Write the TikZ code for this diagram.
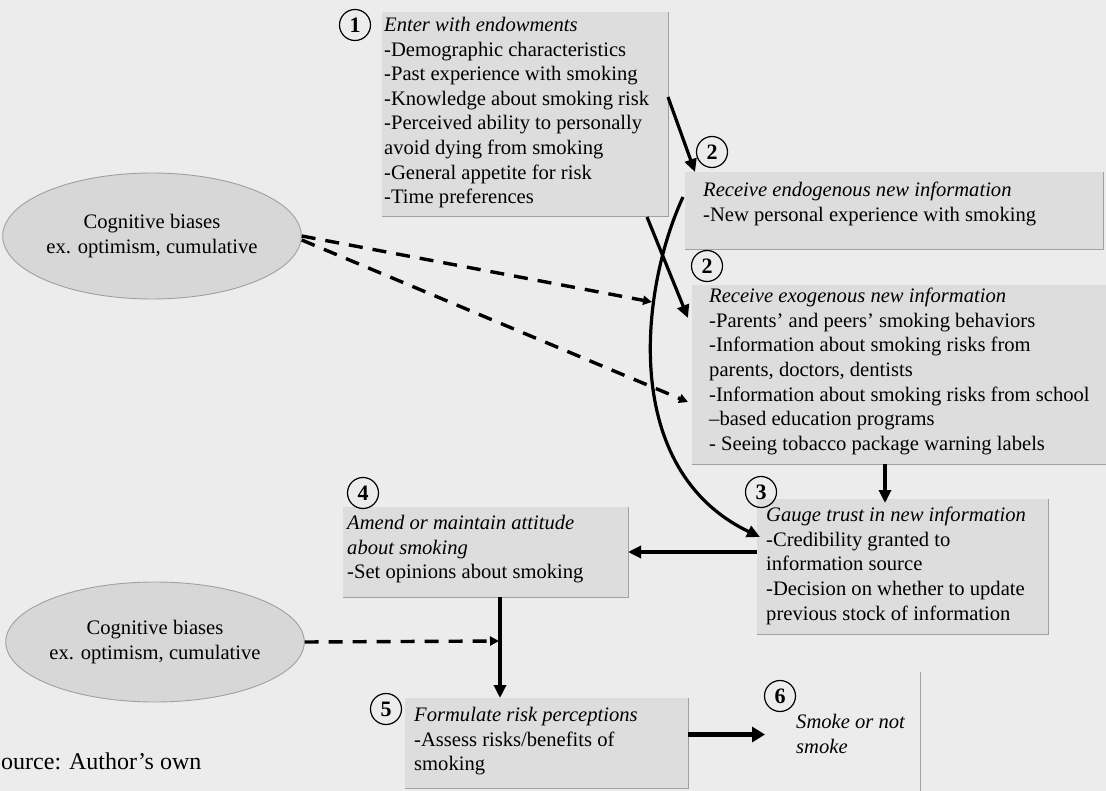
\documentclass[tikz,border=0pt]{standalone}
\usepackage{fontspec}
\setmainfont{Liberation Serif}
\usetikzlibrary{arrows.meta,shapes.geometric}
\newcommand\mfs{\fontsize{20.6pt}{24.6pt}\selectfont}
\definecolor{bgc}{RGB}{236,236,236}
\definecolor{boxc}{RGB}{221,221,221}
\definecolor{ellc}{RGB}{215,215,215}
\definecolor{edgec}{RGB}{160,160,160}
\tikzset{
  boxst/.style={rectangle, fill=boxc, inner sep=0pt, outer sep=0pt, anchor=north west},
  edgest/.style={draw=edgec, line width=1pt},
  txt/.style={anchor=north west, inner sep=0pt, align=left, font=\mfs},
  numc/.style={circle, draw, line width=1.2pt, minimum size=31pt, inner sep=0pt, font=\fontsize{22pt}{22pt}\selectfont\bfseries},
  ellst/.style={ellipse, fill=ellc, draw=edgec, line width=0.9pt, inner sep=0pt, align=center, font=\mfs},
  arr/.style={line width=3.2pt, -{Triangle[length=13pt,width=12pt]}},
  bigarr/.style={line width=5pt, -{Triangle[length=13pt,width=15pt]}},
  darr/.style={line width=3.4pt, dash pattern=on 14pt off 10pt, -{Triangle[length=9pt,width=9pt]}}
}
\begin{document}
\begin{tikzpicture}[x=1pt,y=-1pt]
\useasboundingbox (0,0) rectangle (1106,791);
\fill[bgc] (0,0) rectangle (1106,791);

% boxes
\node[boxst, minimum width=286pt, minimum height=205pt] (b1) at (382,12) {};
\node[boxst, minimum width=418pt, minimum height=78pt] (b2a) at (685,172) {};
\node[boxst, minimum width=414pt, minimum height=179pt] (b2b) at (692,285) {};
\node[boxst, minimum width=291pt, minimum height=135pt] (b3) at (757,499) {};
\node[boxst, minimum width=285pt, minimum height=90pt] (b4) at (343,507) {};
\node[boxst, minimum width=283pt, minimum height=90pt] (b5) at (405,698) {};
\node[rectangle, anchor=north west, inner sep=0pt, outer sep=0pt, minimum width=155pt, minimum height=125pt] (b6) at (765,672) {};

\foreach \b in {b1,b2a,b2b,b3,b4,b5}{
  \draw[edgest] (\b.north east) -- (\b.south east) -- (\b.south west);
}
\draw[edgest] (b6.north east) -- (b6.south east);

% ellipses
\node[ellst, minimum width=280pt, minimum height=126pt] (e1) at (152,236) {Cognitive biases\\ex. optimism, cumulative};
\node[ellst, minimum width=284pt, minimum height=120pt] (e2) at (155,642) {Cognitive biases\\ex. optimism, cumulative};

% texts
\node[txt] (t1) at (384,17) {\textit{Enter with endowments}\\-Demographic characteristics\\-Past experience with smoking\\-Knowledge about smoking risk\\-Perceived ability to personally\\avoid dying from smoking\\-General appetite for risk\\-Time preferences};
\node[txt] (t2a) at (703,182) {\textit{Receive endogenous new information}\\-New personal experience with smoking};
\node[txt] (t2b) at (709,288) {\textit{Receive exogenous new information}\\-Parents’ and peers’ smoking behaviors\\-Information about smoking risks from\\parents, doctors, dentists\\-Information about smoking risks from school\\–based education programs\\- Seeing tobacco package warning labels};
\node[txt] (t3) at (766,507) {\textit{Gauge trust in new information}\\-Credibility granted to\\information source\\-Decision on whether to update\\previous stock of information};
\node[txt] (t4) at (347,515) {\textit{Amend or maintain attitude}\\\textit{about smoking}\\-Set opinions about smoking};
\node[txt] (t5) at (414,707) {\textit{Formulate risk perceptions}\\-Assess risks/benefits of\\smoking};
\node[txt] (t6) at (796,714) {\textit{Smoke or not}\\\textit{smoke}};
\node[anchor=base west, inner sep=0pt, font=\fontsize{24pt}{28pt}\selectfont] (src) at (1,769) {ource: Author’s own};

% numbered circles
\node[numc] (c1) at (355,25) {1};
\node[numc] (c2a) at (712,152) {2};
\node[numc] (c2b) at (707,266) {2};
\node[numc] (c3) at (761,492) {3};
\node[numc] (c4) at (363,493) {4};
\node[numc] (c5) at (386,709) {5};
\node[numc] (c6) at (780,696) {6};

% helper points
\coordinate (k1) at (652,302);
\coordinate (k3) at (499,641);

% connectors
\draw[arr] ([yshift=-85pt]b1.north east) -- ([xshift=10pt]b2a.north west);
\draw[arr] ([xshift=-21pt]b1.south east) -- ([xshift=-4pt,yshift=-33pt]b2b.north west);
\draw[arr] ([xshift=-2pt,yshift=-25pt]b2a.north west) .. controls (640,290) and (620,470) .. ([xshift=3pt,yshift=-38pt]b3.north west);
\draw[arr] ([xshift=193pt]b2b.south west) -- ([xshift=128pt,yshift=-4pt]b3.north west);
\draw[arr] (b3.west |- b4.east) -- (b4.east);
\draw[arr] ([xshift=157pt]b4.south west) -- ([xshift=95pt]b5.north west);
\draw[bigarr] (b5.east |- b6.west) -- (b6.west);

\draw[darr] (e1.east) -- (k1);
\draw[darr] ([yshift=-4pt]e1.east) -- ([xshift=-4pt,yshift=-117pt]b2b.north west);
\draw[darr] (e2.east) -- (k3);
\end{tikzpicture}
\end{document}
